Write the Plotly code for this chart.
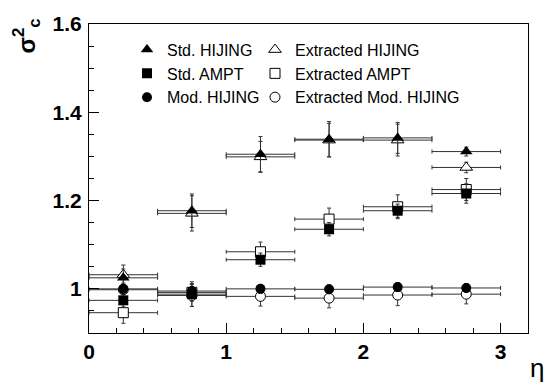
import plotly.graph_objects as go

# ---- data ----
eta = [0.25, 0.75, 1.25, 1.75, 2.25, 2.75]
eta_err = [0.25, 0.25, 0.25, 0.25, 0.25, 0.25]

std_hijing = [1.025, 1.177, 1.305, 1.339, 1.342, 1.311]
std_hijing_err = [0.020, 0.038, 0.040, 0.040, 0.035, 0.010]
ext_hijing = [1.032, 1.171, 1.299, 1.337, 1.337, 1.275]
ext_hijing_err = [0.022, 0.040, 0.035, 0.038, 0.036, 0.012]

std_ampt = [0.974, 0.988, 1.066, 1.135, 1.177, 1.216]
std_ampt_err = [0.015, 0.028, 0.015, 0.015, 0.015, 0.022]
ext_ampt = [0.946, 0.992, 1.084, 1.158, 1.186, 1.225]
ext_ampt_err = [0.024, 0.020, 0.022, 0.025, 0.027, 0.025]

mod_hijing = [1.000, 0.995, 1.000, 0.999, 1.004, 1.002]
mod_hijing_err = [0.010, 0.010, 0.010, 0.010, 0.010, 0.010]
ext_mod_hijing = [0.998, 0.985, 0.983, 0.979, 0.986, 0.988]
ext_mod_hijing_err = [0.015, 0.025, 0.022, 0.022, 0.024, 0.022]

x_tickvals = [0, 1, 2, 3]
x_ticktext = ["0", "1", "2", "3"]
y_tickvals = [1.0, 1.2, 1.4, 1.6]
y_ticktext = ["1", "1.2", "1.4", "1.6"]

FONT = "Liberation Sans, Arial, sans-serif"
ERRC = "#333333"

def series(y, yerr, name, symbol, filled, legend, size):
    if filled:
        marker = dict(symbol=symbol, size=size, color="black",
                      line=dict(color="black", width=0))
    else:
        marker = dict(symbol=symbol, size=size, color="white",
                      line=dict(color="black", width=1))
    return go.Scatter(
        x=eta, y=y, mode="markers", name=name, marker=marker,
        error_x=dict(type="data", array=eta_err, color=ERRC, thickness=1, width=2),
        error_y=dict(type="data", array=yerr, color=ERRC, thickness=1, width=2),
        legend=legend,
    )

fig = go.Figure()
# open markers first, filled on top
fig.add_trace(series(ext_hijing, ext_hijing_err, "Extracted HIJING", "triangle-up", False, "legend2", 11))
fig.add_trace(series(ext_ampt, ext_ampt_err, "Extracted AMPT", "square", False, "legend2", 10))
fig.add_trace(series(ext_mod_hijing, ext_mod_hijing_err, "Extracted Mod. HIJING", "circle", False, "legend2", 10))
fig.add_trace(series(std_hijing, std_hijing_err, "Std. HIJING", "triangle-up", True, "legend", 11))
fig.add_trace(series(std_ampt, std_ampt_err, "Std. AMPT", "square", True, "legend", 10))
fig.add_trace(series(mod_hijing, mod_hijing_err, "Mod. HIJING", "circle", True, "legend", 10))

L, R, T, B = 89, 17, 12, 52
W, H = 545, 385
pw = W - L - R
ph = H - T - B

def px_x(p):
    return (p - L) / pw

def px_y(p):
    return 1 - (p - T) / ph

leg_common = dict(font=dict(family=FONT, size=16, color="black"),
                  bgcolor="rgba(0,0,0,0)", borderwidth=0,
                  xanchor="left", yanchor="top",
                  traceorder="normal", itemsizing="trace")

fig.update_layout(
    width=W, height=H,
    margin=dict(l=L, r=R, t=T, b=B),
    paper_bgcolor="white", plot_bgcolor="white",
    showlegend=True,
    legend=dict(x=px_x(127), y=px_y(21), **leg_common),
    legend2=dict(x=px_x(255), y=px_y(21), **leg_common),
    xaxis=dict(range=[0, 3.2], tickmode="array", tickvals=x_tickvals, ticktext=x_ticktext,
               ticks="inside", ticklen=10, tickwidth=1, tickcolor="black",
               minor=dict(ticks="inside", ticklen=5, dtick=0.2, tick0=0, tickcolor="black", showgrid=False),
               showline=True, linecolor="black", linewidth=1, mirror=True,
               showgrid=False, zeroline=False,
               tickfont=dict(family=FONT, size=21, color="black", weight="bold")),
    yaxis=dict(range=[0.9, 1.6], tickmode="array", tickvals=y_tickvals, ticktext=y_ticktext,
               ticks="inside", ticklen=10, tickwidth=1, tickcolor="black",
               minor=dict(ticks="inside", ticklen=5, dtick=0.05, tick0=0.9, tickcolor="black", showgrid=False),
               showline=True, linecolor="black", linewidth=1, mirror=True,
               showgrid=False, zeroline=False, ticklabelstandoff=2,
               tickfont=dict(family=FONT, size=21, color="black", weight="bold")),
    annotations=[
        dict(text="σ<sup>2</sup><sub>c</sub>", xref="paper", yref="paper",
             x=px_x(26), y=px_y(25), xanchor="center", yanchor="middle",
             textangle=-90, showarrow=False,
             font=dict(family=FONT, size=24, color="black", weight="bold")),
        dict(text="η", xref="paper", yref="paper",
             x=px_x(537), y=px_y(369), xanchor="center", yanchor="middle",
             showarrow=False, font=dict(family=FONT, size=26, color="black")),
    ],
)

fig.write_html("out.html")
